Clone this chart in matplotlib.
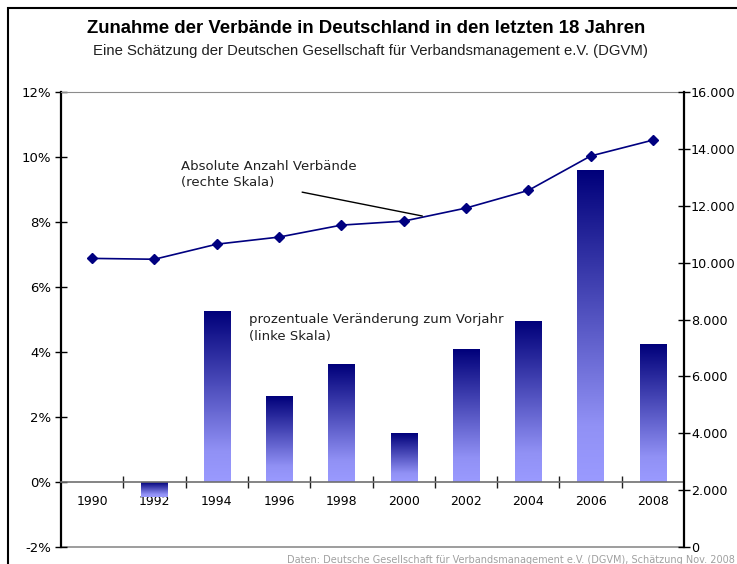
import numpy as np
import matplotlib
matplotlib.use('Agg')
import matplotlib.pyplot as plt
from matplotlib.colors import LinearSegmentedColormap
from matplotlib.ticker import FuncFormatter, PercentFormatter, FixedLocator
from matplotlib.patches import Rectangle

#%% DATA

years = ['1990', '1992', '1994', '1996', '1998', '2000', '2002', '2004', '2006', '2008']
# prozentuale Veraenderung zum Vorjahr (linke Skala), 1990 has no bar
pct_change = [0.0, -0.46, 5.26, 2.62, 3.63, 1.48, 4.09, 4.95, 9.57, 4.22]
# absolute Anzahl Verbaende (rechte Skala)
verbaende = [10150, 10120, 10650, 10900, 11320, 11460, 11920, 12540, 13750, 14310]

title = 'Zunahme der Verbände in Deutschland in den letzten 18 Jahren'
subtitle = 'Eine Schätzung der Deutschen Gesellschaft für Verbandsmanagement e.V. (DGVM)'
source = 'Daten: Deutsche Gesellschaft für Verbandsmanagement e.V. (DGVM), Schätzung Nov. 2008'

#%% FIGURE

plt.rcParams['font.family'] = ['DejaVu Sans']
plt.rcParams['axes.unicode_minus'] = False

fig = plt.figure(figsize=(7.37, 5.64), dpi=100)
ax = fig.add_axes([0.0828, 0.0301, 0.8453, 0.8067])
ax2 = ax.twinx()

x = np.arange(len(years))

# bars with vertical gradient (dark on top, light at the bottom)
cmap = LinearSegmentedColormap.from_list('bar', [(0, '#9a9aff'), (0.18, '#9191f5'), (1, '#00007a')])
grad = np.linspace(0, 1, 256).reshape(-1, 1)
bars = ax.bar(x, pct_change, width=0.42, color='none', edgecolor='none', zorder=2)
for b in bars:
    h = b.get_height()
    if h == 0:
        continue
    lo, hi = min(b.get_y(), b.get_y() + h), max(b.get_y(), b.get_y() + h)
    ax.imshow(grad, extent=[b.get_x(), b.get_x() + b.get_width(), lo, hi],
              origin='lower', aspect='auto', cmap=cmap, zorder=2, interpolation='bilinear')

ax.set_xlim(-0.5, len(years) - 0.5)
ax.set_ylim(-2, 12)
ax.set_aspect('auto')
ax.set_yticks(np.arange(-2, 13, 2))
ax.yaxis.set_major_formatter(PercentFormatter(100, decimals=0))

# x axis sits on the 0% line, marks between the categories, labels below
ax.spines['bottom'].set_position(('data', 0))
ax.spines['bottom'].set_color('#707070')
ax.spines['bottom'].set_linewidth(1.2)
ax.spines['top'].set_color('#8c8c8c')
ax.spines['left'].set_color('black')
ax.spines['left'].set_linewidth(1.6)
ax.spines['right'].set_visible(False)
ax.axhline(-2, color='#8c8c8c', lw=1.2, clip_on=False, zorder=1)

ax.xaxis.set_major_locator(FixedLocator(x[:-1] + 0.5))
ax.xaxis.set_minor_locator(FixedLocator(x))
ax.xaxis.set_major_formatter(FuncFormatter(lambda v, p: ''))
ax.set_xticklabels(years, minor=True)
ax.tick_params(axis='x', which='major', direction='inout', length=8, color='#202020', width=1)
ax.tick_params(axis='x', which='minor', length=0, pad=9, labelsize=9, labelcolor='black')
ax.tick_params(axis='y', direction='inout', length=8, width=1, pad=3, labelsize=9.5)

# line on right axis
ax2.plot(x, verbaende, color='#000080', marker='D', markersize=5, lw=1.2, zorder=3)
ax2.set_ylim(0, 16000)
ax2.set_yticks(np.arange(0, 16001, 2000))
ax2.yaxis.set_major_formatter(FuncFormatter(lambda v, p: f'{v:,.0f}'.replace(',', '.')))
ax2.tick_params(axis='y', direction='inout', length=8, width=1, pad=1, labelsize=9.2)
for s in ['top', 'bottom', 'left']:
    ax2.spines[s].set_visible(False)
ax2.spines['right'].set_color('black')
ax2.spines['right'].set_linewidth(1.6)

# annotations
ax2.text(0.193, 0.851, 'Absolute Anzahl Verbände\n(rechte Skala)', transform=ax2.transAxes,
         fontsize=9.5, va='top', ha='left', linespacing=1.35, color='#202020')
ax2.annotate('', xy=(5.3, 11640), xycoords='data', xytext=(0.387, 0.780), textcoords='axes fraction',
             arrowprops=dict(arrowstyle='-', color='black', lw=1, shrinkA=0, shrinkB=0))
ax2.text(0.302, 0.514, 'prozentuale Veränderung zum Vorjahr\n(linke Skala)', transform=ax2.transAxes,
         fontsize=9.5, va='top', ha='left', linespacing=1.35, color='#202020')

# titles and source
fig.text(0.497, 0.950, title, ha='center', va='center', fontsize=13.4, fontweight='bold',
         family='Liberation Sans')
fig.text(0.502, 0.909, subtitle, ha='center', va='center', fontsize=10.75, family='Liberation Sans',
         color='#202020')
fig.text(0.997, -0.001, source, ha='right', va='bottom', fontsize=7.0, color='#a0a0a0')

# outer frame (runs off the right and bottom edge)
fig.patches.append(Rectangle((8 / 737, -0.2), 1.2, 1.2 - 8 / 564, transform=fig.transFigure,
                             fill=False, edgecolor='black', lw=1.5))

plt.savefig('out.png', dpi=100)
